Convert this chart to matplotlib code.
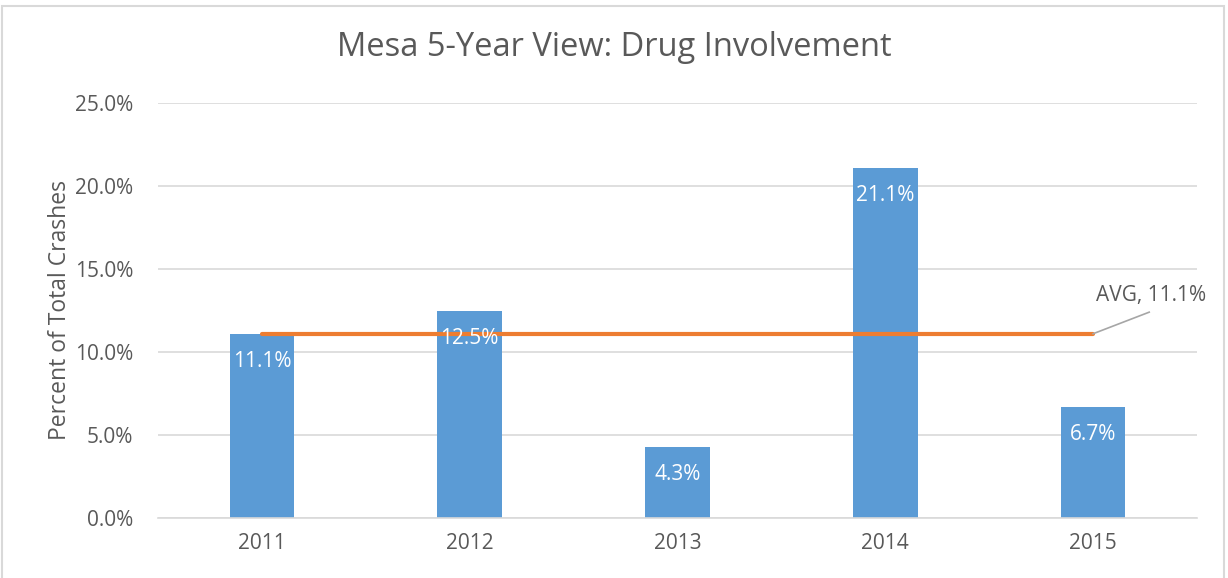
import matplotlib.pyplot as plt
from matplotlib.patches import Rectangle

# ## Data ## #
years = ["2011", "2012", "2013", "2014", "2015"]
pct = [11.1, 12.5, 4.3, 21.1, 6.7]
avg = 11.1
yticks = [0, 5, 10, 15, 20, 25]

bar_color = "#5B9BD5"
avg_color = "#ED7D31"
text_color = "#595959"
grid_color = "#D9D9D9"

plt.rcParams["font.family"] = ["Open Sans", "DejaVu Sans"]

fig = plt.figure(figsize=(12.28, 5.78), dpi=100)
ax = fig.add_axes([158 / 1228, 60 / 578, 1039 / 1228, 415 / 578])

x = list(range(len(years)))
ax.bar(x, pct, width=0.31, color=bar_color, zorder=2)

# average line across the category centres
ax.plot([x[0], x[-1]], [avg, avg], color=avg_color, lw=3, solid_capstyle="round", zorder=3)

# data labels inside the bars
for xi, v in zip(x, pct):
    ax.annotate(f"{v:.1f}%", (xi, v), xytext=(0, -20), textcoords="offset points",
                ha="center", va="center", color="white", fontsize=15, zorder=4)

# AVG callout with leader line
ax.plot([x[-1], x[-1] + 0.27], [avg, avg + 1.3], color="#A6A6A6", lw=1.2, zorder=3)
ax.text(x[-1] + 0.28, avg + 2.3, f"AVG, {avg:.1f}%", ha="center", va="center",
        color=text_color, fontsize=15)

ax.set_xlim(-0.5, 4.5)
ax.set_ylim(0, 25)
ax.set_yticks(yticks)
ax.set_yticklabels([f"{t:.1f}%" for t in yticks])
ax.set_xticks(x)
ax.set_xticklabels(years)
ax.tick_params(length=0, labelsize=15, colors=text_color)
ax.tick_params(axis="y", pad=18)
ax.tick_params(axis="x", pad=11)
ax.grid(axis="y", color=grid_color, lw=1.2, zorder=0)
for s in ["top", "right", "left"]:
    ax.spines[s].set_visible(False)
ax.spines["bottom"].set_color(grid_color)
ax.spines["bottom"].set_linewidth(1.2)

ax.set_ylabel("Percent of Total Crashes", fontsize=16.5, color=text_color, labelpad=2)
fig.text(0.5, 1 - 48 / 578, "Mesa 5-Year View: Drug Involvement", ha="center", va="center",
         fontsize=23.5, color=text_color)

# outer chart border
fig.patches.append(Rectangle((0.002, -0.01), 0.995, 1.0, transform=fig.transFigure,
                             fill=False, edgecolor="#D9D9D9", lw=1.5))

fig.savefig("out.png", dpi=100)
